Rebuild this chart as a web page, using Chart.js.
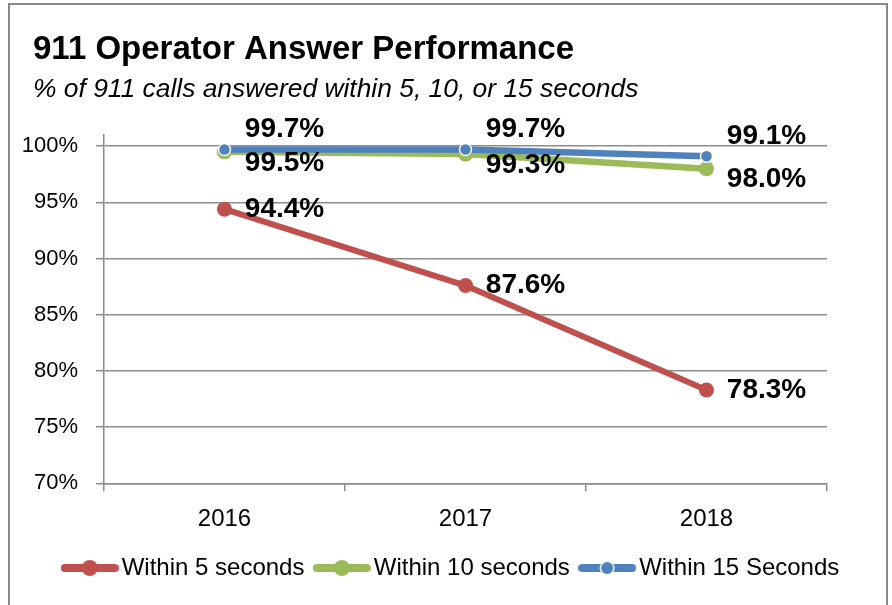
<!DOCTYPE html>
<html>
<head>
<meta charset="utf-8">
<script src="https://cdn.jsdelivr.net/npm/chart.js@4"></script>
<style>
  html, body { margin: 0; padding: 0; background: #fff; }
  #wrap { width: 892px; height: 605px; }
</style>
</head>
<body>
<div id="wrap"><canvas id="c" width="892" height="605"></canvas></div>
<script>
// ---- Data ----
const years = ['2016', '2017', '2018'];
const within5 = [94.4, 87.6, 78.3];
const within10 = [99.5, 99.3, 98.0];
const within15 = [99.7, 99.7, 99.1];
const seriesNames = ['Within 5 seconds', 'Within 10 seconds', 'Within 15 Seconds'];
const yMin = 70, yMax = 100, yStep = 5;
const titleText = '911 Operator Answer Performance';
const subtitleText = '% of 911 calls answered within 5, 10, or 15 seconds';

// ---- Styles ----
const RED = '#C0504D', GREEN = '#9BBB59', BLUE = '#4F81BD';
const GRID = '#8c8c8c';
const FONT = "'Liberation Sans', Arial, sans-serif";
const TEXT_LEFT = 33;

function legendIcon(color, ring) {
  const c = document.createElement('canvas');
  c.width = 58; c.height = 18;
  const g = c.getContext('2d');
  g.strokeStyle = color; g.lineWidth = 8; g.lineCap = 'round';
  g.beginPath(); g.moveTo(4, 9); g.lineTo(54, 9); g.stroke();
  if (ring) {
    g.fillStyle = '#fff'; g.beginPath(); g.arc(29, 9, 7.5, 0, Math.PI * 2); g.fill();
    g.fillStyle = color; g.beginPath(); g.arc(29, 9, 6, 0, Math.PI * 2); g.fill();
  } else {
    g.fillStyle = color; g.beginPath(); g.arc(29, 9, 8, 0, Math.PI * 2); g.fill();
  }
  return c;
}
const legendIcons = [legendIcon(RED, false), legendIcon(GREEN, false), legendIcon(BLUE, true)];

const frame = {
  id: 'frame',
  beforeDraw(chart) {
    const ctx = chart.ctx;
    ctx.save();
    ctx.fillStyle = '#fff';
    ctx.fillRect(0, 0, chart.width, chart.height);
    ctx.strokeStyle = '#8a8a8a';
    ctx.lineWidth = 2;
    ctx.strokeRect(9, 4, 878, 640);
    ctx.restore();
  }
};

// Title, subtitle and legend start at the text margin, not at the axis edge.
const textMargin = {
  id: 'textMargin',
  afterLayout(chart) {
    chart.boxes.forEach(b => {
      const isText = b === chart.titleBlock || b === chart.legend ||
        (b.options && b.options.text === subtitleText);
      if (isText) { b.left = TEXT_LEFT; b.width = b.right - b.left; }
    });
  }
};

const valueLabels = {
  id: 'valueLabels',
  afterDatasetsDraw(chart) {
    const ctx = chart.ctx;
    ctx.save();
    ctx.font = "bold 28px " + FONT;
    ctx.fillStyle = '#000';
    ctx.textAlign = 'center';
    ctx.textBaseline = 'middle';
    chart.data.datasets.forEach((ds, i) => {
      const meta = chart.getDatasetMeta(i);
      meta.data.forEach((pt, j) => {
        ctx.fillText(ds.data[j].toFixed(1) + '%', pt.x + 60, pt.y + ds.labelDy);
      });
    });
    ctx.restore();
  }
};

new Chart(document.getElementById('c'), {
  type: 'line',
  data: {
    labels: years,
    datasets: [
      { label: seriesNames[0], data: within5, borderColor: RED, backgroundColor: RED,
        borderWidth: 6, pointRadius: 7.5, pointBackgroundColor: RED, pointBorderColor: RED,
        pointBorderWidth: 0, order: 0, labelDy: 0 },
      { label: seriesNames[1], data: within10, borderColor: GREEN, backgroundColor: GREEN,
        borderWidth: 6.5, pointRadius: 7.5, pointBackgroundColor: GREEN, pointBorderColor: GREEN,
        pointBorderWidth: 0, order: 2, labelDy: 11 },
      { label: seriesNames[2], data: within15, borderColor: BLUE, backgroundColor: BLUE,
        borderWidth: 6.5, pointRadius: 6, pointBackgroundColor: BLUE, pointBorderColor: '#fff',
        pointBorderWidth: 1.5, order: 1, labelDy: -20 }
    ]
  },
  options: {
    responsive: false,
    animation: false,
    layout: { padding: { left: 12, right: 16, top: 0, bottom: 15 } },
    plugins: {
      title: {
        display: true, text: titleText, align: 'start', color: '#000',
        font: { family: FONT, size: 33, weight: 'bold' },
        padding: { top: 29.8, bottom: 0 }
      },
      subtitle: {
        display: true, text: subtitleText, align: 'start', color: '#000',
        font: { family: FONT, size: 26.4, style: 'italic', weight: 'normal' },
        padding: { top: 4, bottom: 29.9 }
      },
      legend: {
        position: 'bottom',
        align: 'center',
        labels: {
          usePointStyle: true,
          pointStyleWidth: 40,
          padding: 17.3,
          color: '#000',
          font: { family: FONT, size: 24 },
          generateLabels: chart => chart.data.datasets.map((ds, i) => ({
            text: ds.label, pointStyle: legendIcons[i], datasetIndex: i,
            hidden: !chart.isDatasetVisible(i), fillStyle: ds.borderColor,
            strokeStyle: ds.borderColor, lineWidth: 0, fontColor: '#000'
          }))
        }
      },
      tooltip: { enabled: false }
    },
    scales: {
      x: {
        offset: true,
        grid: { display: true, offset: true, drawOnChartArea: false, drawTicks: true,
                tickLength: 8, color: GRID, lineWidth: 1.5 },
        border: { display: true, color: GRID, width: 1.5 },
        ticks: { color: '#000', font: { family: FONT, size: 24 }, padding: 13.3, maxRotation: 0 },
        afterFit: s => { s.height = 55.4; }
      },
      y: {
        min: yMin, max: yMax + 1, bounds: 'data',
        grid: { color: GRID, lineWidth: 1.5, tickLength: 8, drawTicks: true },
        border: { display: true, color: GRID, width: 1.5 },
        ticks: { stepSize: yStep, includeBounds: false, color: '#000',
                 font: { family: FONT, size: 22 }, padding: 18,
                 callback: v => v + '%' },
        afterBuildTicks: s => { s.ticks = s.ticks.filter(t => t.value <= yMax && t.value % yStep === 0); },
        afterFit: s => { s.width = 92; }
      },
      yRight: {
        position: 'right', display: true,
        grid: { display: false }, border: { display: false },
        ticks: { display: false },
        afterFit: s => { s.width = 49; }
      }
    }
  },
  plugins: [frame, textMargin, valueLabels]
});
</script>
</body>
</html>
